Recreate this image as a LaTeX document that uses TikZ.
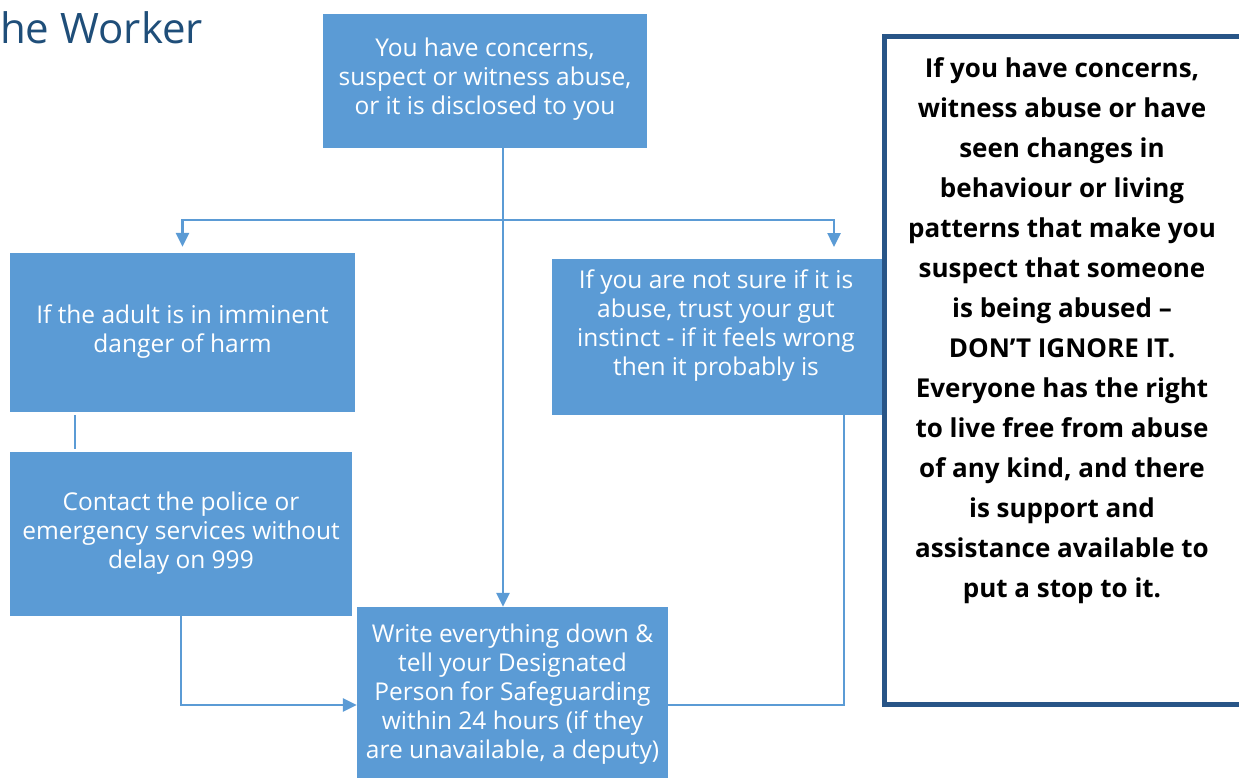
\documentclass[tikz,border=0pt]{standalone}
\usepackage{fontspec}
\setmainfont{Open Sans}
\usetikzlibrary{arrows.meta,calc}
\definecolor{boxblue}{RGB}{91,155,213}
\definecolor{navy}{RGB}{40,85,135}
\definecolor{titleblue}{RGB}{31,78,121}
\begin{document}
\begin{tikzpicture}[x=1pt,y=-1pt,
  box/.style={fill=boxblue, inner sep=0pt},
  txt/.style={text=white, align=center, inner sep=0pt, font=\fontsize{24.5}{29}\selectfont},
  conn/.style={draw=boxblue, line width=2.5pt},
  arr/.style={conn, -{Triangle[width=13pt,length=14pt]}}]
\useasboundingbox (0,0) rectangle (1239,778);

% title
\node[anchor=base west, text=titleblue, font=\fontsize{42}{44}\selectfont, inner sep=0pt] (title) at (0,44) {he Worker};

% boxes
\node[box, minimum width=324pt, minimum height=134pt] (top) at (485,81) {};
\node[txt] (topt) at (485,79) {You have concerns,\\suspect or witness abuse,\\or it is disclosed to you};

\node[box, minimum width=345pt, minimum height=159pt] (ad) at (182.5,332.5) {};
\node[txt] (adt) at (182.5,332) {If the adult is in imminent\\danger of harm};

\node[box, minimum width=342pt, minimum height=164pt] (pol) at (181,534) {};
\node[txt] (polt) at (181,533) {Contact the police or\\emergency services without\\delay on 999};

\node[box, minimum width=330pt, minimum height=156pt] (rbox) at (717,337) {};
\node[txt] (rboxt) at (716,326) {If you are not sure if it is\\abuse, trust your gut\\instinct - if it feels wrong\\then it probably is};

\node[box, minimum width=311pt, minimum height=171pt] (bot) at (512.5,692.5) {};
\node[txt] (bott) at (512.5,694) {Write everything down \&\\tell your Designated\\Person for Safeguarding\\within 24 hours (if they\\are unavailable, a deputy)};

% note box
\node[draw=navy, fill=white, line width=5pt, inner sep=0pt, minimum width=365.5pt, minimum height=668pt] (note) at (1067.25,370.5) {};
\node[align=center, inner sep=0pt, font=\fontsize{26}{40}\selectfont\bfseries] (notet) at (1062,331) {If you have concerns,\\witness abuse or have\\seen changes in\\behaviour or living\\patterns that make you\\suspect that someone\\is being abused –\\DON’T IGNORE IT.\\Everyone has the right\\to live free from abuse\\of any kind, and there\\is support and\\assistance available to\\put a stop to it.};

% connectors
\coordinate (j) at (503,220);
\coordinate (ra) at (834,247);
\draw[arr] (top.south -| j) -- (j |- bot.north);
\draw[arr] (j) -| ([yshift=6pt]ad.north);
\draw[arr] (j) -| (ra);
\draw[conn] ([xshift=-107.5pt,yshift=-3pt]ad.south) -- ([xshift=-106pt,yshift=3pt]pol.north);
\draw[arr] (pol.south) |- ([yshift=-12.5pt]bot.west);
\draw[conn] ([xshift=127pt]rbox.south) |- ([yshift=-12.5pt]bot.east);
\end{tikzpicture}
\end{document}
